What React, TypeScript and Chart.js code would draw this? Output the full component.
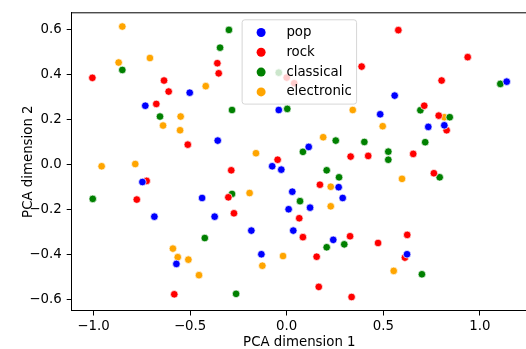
import React, { useEffect, useRef } from 'react';
import { Chart, registerables } from 'chart.js';

Chart.register(...registerables);

const seriesNames = ['pop', 'rock', 'classical', 'electronic'];
const seriesColors = ['#0000ff', '#ff0000', '#008000', '#ffa500'];

const popX = [-0.502, -0.732, -0.041, 1.139, 0.559, 0.484, 0.733, 0.816, -0.357, 0.114, -0.075, -0.028, -0.747, -0.438, 0.269, 0.290, 0.029, 0.010, 0.121, -0.685, -0.373, -0.183, 0.034, 0.241, -0.131, -0.571, 0.623];
const popY = [0.318, 0.260, 0.241, 0.367, 0.305, 0.222, 0.166, 0.173, 0.105, 0.077, -0.009, -0.024, -0.079, -0.150, -0.102, -0.150, -0.122, -0.200, -0.193, -0.233, -0.233, -0.295, -0.295, -0.336, -0.400, -0.443, -0.400];

const rockX = [-1.006, -0.635, -0.611, -0.675, -0.359, -0.352, 0.000, 0.039, 0.388, 0.578, 0.937, 0.802, 0.712, 0.787, 0.828, 0.422, 0.655, 0.762, -0.512, -0.725, -0.776, 0.331, -0.047, -0.287, 0.172, -0.302, -0.273, 0.065, 0.084, 0.328, 0.155, 0.166, 0.336, -0.582, 0.624, 0.473, 0.612];
const rockY = [0.384, 0.372, 0.323, 0.268, 0.449, 0.404, 0.385, 0.360, 0.434, 0.596, 0.476, 0.372, 0.260, 0.216, 0.151, 0.037, 0.046, -0.040, 0.087, -0.074, -0.157, 0.034, 0.020, -0.027, -0.091, -0.147, -0.218, -0.240, -0.324, -0.320, -0.411, -0.545, -0.590, -0.578, -0.314, -0.350, -0.415];

const classicalX = [-0.299, -0.345, -0.851, -0.041, -0.656, -0.283, 0.003, 1.106, 0.692, 0.844, 0.402, 0.717, 0.526, 0.526, 0.792, 0.254, 0.084, 0.207, 0.271, -1.004, -0.283, 0.069, -0.424, 0.207, 0.298, -0.262, 0.700];
const classicalY = [0.597, 0.518, 0.419, 0.407, 0.212, 0.241, 0.246, 0.357, 0.240, 0.209, 0.099, 0.098, 0.056, 0.020, -0.058, 0.105, 0.055, -0.027, -0.058, -0.154, -0.132, -0.164, -0.328, -0.369, -0.356, -0.576, -0.489];

const electronicX = [-0.851, -0.870, -0.708, -0.419, -0.549, -0.640, -0.552, 0.342, 0.497, 0.816, 0.189, -0.159, -0.958, -0.784, 0.228, -0.192, 0.228, 0.597, -0.589, -0.564, -0.509, -0.454, -0.019, -0.126, 0.554];
const electronicY = [0.612, 0.452, 0.472, 0.347, 0.212, 0.172, 0.151, 0.241, 0.169, 0.209, 0.120, 0.049, -0.009, 0.001, -0.100, -0.128, -0.187, -0.065, -0.375, -0.413, -0.424, -0.493, -0.408, -0.451, -0.474];

const xTicks = [-1.0, -0.5, 0.0, 0.5, 1.0];
const yTicks = [-0.6, -0.4, -0.2, 0.0, 0.2, 0.4, 0.6];
const xRange = [-1.113, 1.244];
const yRange = [-0.650, 0.673];
const xLabel = 'PCA dimension 1';
const yLabel = 'PCA dimension 2';

const seriesX = [popX, rockX, classicalX, electronicX];
const seriesY = [popY, rockY, classicalY, electronicY];

const FONT = '"DejaVu Sans", sans-serif';
const FS = 13.33;

const fmt = (v: number) => v.toFixed(1).replace('-', '\u2212');

const legendPlugin = {
  id: 'mplLegend',
  afterDatasetsDraw(chart: any) {
    const ctx = chart.ctx as CanvasRenderingContext2D;
    const area = chart.chartArea;
    ctx.save();
    ctx.font = `${FS}px ${FONT}`;
    const maxW = Math.max(...seriesNames.map((n) => ctx.measureText(n).width));
    const w = 44.3 + maxW + 4.7;
    const rowH = 19.8;
    const h = 84.3;
    const cx = (area.left + area.right) / 2;
    const x0 = cx - w / 2;
    const y0 = area.top + 7;
    ctx.beginPath();
    (ctx as any).roundRect(x0, y0, w, h, 2.7);
    ctx.fillStyle = 'rgba(255,255,255,0.8)';
    ctx.fill();
    ctx.strokeStyle = 'rgba(204,204,204,0.8)';
    ctx.lineWidth = 1;
    ctx.stroke();
    seriesNames.forEach((name, i) => {
      const yy = y0 + 12.7 + i * rowH;
      ctx.beginPath();
      ctx.arc(x0 + 19, yy, 4.5, 0, Math.PI * 2);
      ctx.fillStyle = seriesColors[i];
      ctx.fill();
      ctx.fillStyle = '#000';
      ctx.textBaseline = 'middle';
      ctx.textAlign = 'left';
      ctx.fillText(name, x0 + 44.3, yy);
    });
    ctx.restore();
  },
  afterDraw(chart: any) {
    const ctx = chart.ctx as CanvasRenderingContext2D;
    const a = chart.chartArea;
    ctx.save();
    ctx.strokeStyle = '#000';
    ctx.lineWidth = 1;
    ctx.beginPath();
    ctx.moveTo(a.left, a.top);
    ctx.lineTo(a.right, a.top);
    ctx.stroke();
    ctx.restore();
  },
};

export default function App() {
  const ref = useRef<HTMLCanvasElement | null>(null);
  useEffect(() => {
    if (!ref.current) return;
    const datasets = seriesNames.map((name, i) => ({
      label: name,
      data: seriesX[i].map((x, j) => ({ x, y: seriesY[i][j] })),
      backgroundColor: seriesColors[i],
      borderColor: '#ffffff',
      borderWidth: 0.7,
      pointRadius: 3.8,
      pointHoverRadius: 3.8,
    }));
    const zeroPad = (s: any) => {
      s.paddingLeft = 0;
      s.paddingRight = 0;
      s.paddingTop = 0;
      s.paddingBottom = 0;
    };
    const chart = new Chart(ref.current, {
      type: 'scatter',
      data: { datasets },
      plugins: [legendPlugin],
      options: {
        animation: false,
        responsive: false,
        devicePixelRatio: 1,
        layout: { padding: { left: 0, top: 12.8, right: 13, bottom: 0 } },
        plugins: { legend: { display: false }, tooltip: { enabled: false } },
        scales: {
          x: {
            type: 'linear',
            min: xRange[0],
            max: xRange[1],
            afterBuildTicks: (s: any) => {
              s.ticks = xTicks.map((v) => ({ value: v }));
            },
            afterFit: (s: any) => {
              s.height = 38.5;
              zeroPad(s);
            },
            ticks: {
              callback: (v: any) => fmt(Number(v)),
              color: '#000',
              font: { family: FONT, size: FS },
              padding: 3,
              maxRotation: 0,
              autoSkip: false,
            },
            grid: { drawOnChartArea: false, drawTicks: true, tickLength: 5, color: '#000', tickWidth: 1 },
            border: { display: true, color: '#000', width: 1 },
            title: {
              display: true,
              text: xLabel,
              color: '#000',
              font: { family: FONT, size: FS, lineHeight: 1 },
              padding: { top: 0, bottom: 0 },
            },
          },
          y: {
            type: 'linear',
            min: yRange[0],
            max: yRange[1],
            afterBuildTicks: (s: any) => {
              s.ticks = yTicks.map((v) => ({ value: v }));
            },
            afterFit: (s: any) => {
              s.width = 71.7;
              zeroPad(s);
            },
            ticks: {
              callback: (v: any) => fmt(Number(v)),
              color: '#000',
              font: { family: FONT, size: FS },
              padding: 5,
              autoSkip: false,
            },
            grid: { drawOnChartArea: false, drawTicks: true, tickLength: 5, color: '#000', tickWidth: 1 },
            border: { display: true, color: '#000', width: 1 },
            title: {
              display: true,
              text: yLabel,
              color: '#000',
              font: { family: FONT, size: FS, lineHeight: 1 },
              padding: { top: 21.6, bottom: 0 },
            },
          },
        },
      },
    });
    return () => chart.destroy();
  }, []);
  return (
    <div style={{ position: 'fixed', left: 0, top: 0, width: 526, height: 349, overflow: 'hidden', background: '#fff' }}>
      <canvas ref={ref} width={540} height={349} style={{ width: 540, height: 349, display: 'block' }} />
    </div>
  );
}
